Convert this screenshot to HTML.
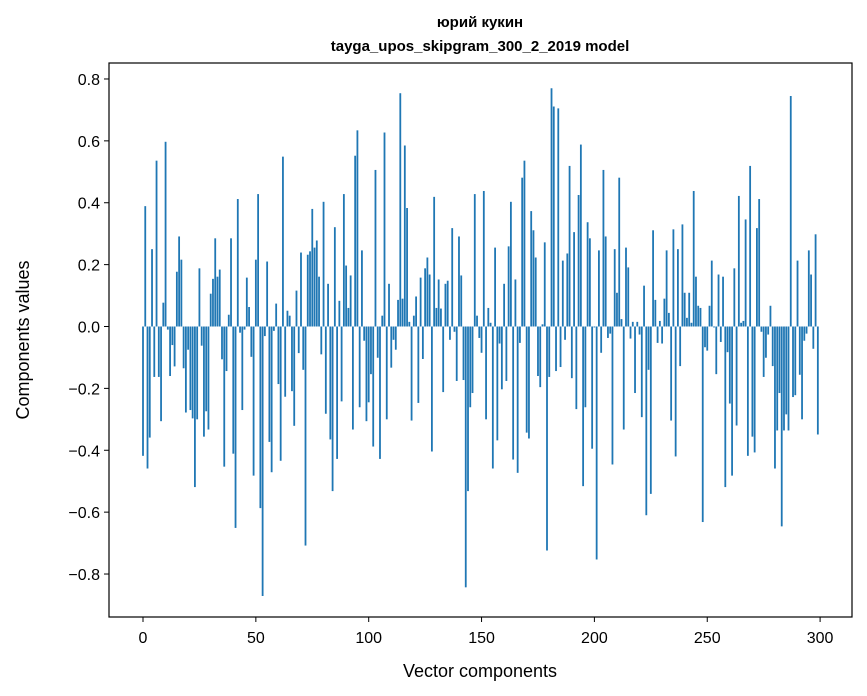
<!DOCTYPE html>
<html><head><meta charset="utf-8"><style>
body{margin:0;background:#fff;}
svg{display:block;font-family:"Liberation Sans","DejaVu Sans",sans-serif;}
</style></head><body>
<svg id="chart" width="867" height="696" viewBox="0 0 867 696" xmlns="http://www.w3.org/2000/svg">
<rect width="867" height="696" fill="#fff"/>
<text x="480" y="27" text-anchor="middle" font-size="15" font-weight="bold">юрий кукин</text>
<text x="480" y="51" text-anchor="middle" font-size="15" font-weight="bold">tayga_upos_skipgram_300_2_2019 model</text>
<g id="bars"></g>
<g id="yticks"></g>
<g id="xticks"></g>
<rect x="109" y="63" width="743" height="554" fill="none" stroke="#000" stroke-width="1.2"/>
<text x="480" y="677" text-anchor="middle" font-size="18">Vector components</text>
<text transform="translate(29,340) rotate(-90)" text-anchor="middle" font-size="18">Components values</text>
</svg>
<script>
const values = [-0.418,0.389,-0.459,-0.359,0.25,-0.163,0.536,-0.163,-0.306,0.077,
0.597,-0.01,-0.16,-0.06,-0.129,0.177,0.291,0.216,-0.135,-0.278,
-0.075,-0.27,-0.297,-0.519,-0.3,0.188,-0.062,-0.356,-0.274,-0.333,
0.106,0.154,0.285,0.161,0.184,-0.106,-0.453,-0.144,0.038,0.285,
-0.411,-0.651,0.412,-0.02,-0.27,-0.01,0.158,0.063,-0.098,-0.482,
0.216,0.428,-0.587,-0.871,-0.031,0.21,-0.373,-0.471,-0.014,0.074,
-0.186,-0.434,0.549,-0.227,0.051,0.035,-0.209,-0.321,0.116,-0.086,
0.239,-0.14,-0.708,0.232,0.243,0.38,0.255,0.278,0.161,-0.09,
0.403,-0.282,0.138,-0.365,-0.532,0.321,-0.428,0.083,-0.242,0.428,
0.197,0.06,0.165,-0.333,0.552,0.634,-0.261,0.246,-0.046,-0.306,
-0.245,-0.154,-0.388,0.506,-0.101,-0.428,0.035,0.627,-0.3,0.138,
-0.133,-0.043,-0.075,0.086,0.754,0.09,0.585,0.383,0.015,-0.304,
0.035,0.097,-0.247,0.158,-0.105,0.188,0.223,0.168,-0.404,0.419,
0.06,0.152,0.058,-0.212,0.138,0.148,-0.043,0.318,-0.017,-0.176,
0.291,0.165,-0.173,-0.843,-0.532,-0.261,-0.215,0.428,0.035,-0.037,
-0.085,0.438,-0.3,0.06,0.012,-0.459,0.255,-0.368,-0.055,-0.203,
0.138,-0.176,0.259,0.403,-0.43,0.152,-0.473,-0.053,0.481,0.536,
-0.343,-0.362,0.373,0.311,0.223,-0.16,-0.196,0.007,0.272,-0.724,
-0.163,0.77,0.711,-0.144,0.705,-0.131,0.213,-0.043,0.236,0.519,
-0.167,0.305,-0.267,0.425,0.588,-0.516,-0.261,0.337,0.285,-0.395,
-0.003,-0.753,0.246,-0.085,0.506,0.291,-0.037,-0.023,-0.446,0.25,
0.109,0.481,0.024,-0.333,0.255,0.191,-0.039,0.015,-0.215,0.015,
-0.026,-0.293,0.132,-0.61,-0.14,-0.541,0.311,0.086,-0.053,0.018,
-0.055,0.09,0.246,0.044,-0.304,0.314,-0.42,0.25,-0.128,0.33,
0.109,0.028,0.109,0.012,0.438,0.161,0.067,0.06,-0.632,-0.067,
-0.078,0.067,0.213,-0.003,-0.154,0.168,-0.05,0.161,-0.519,-0.083,
-0.249,-0.482,0.188,-0.32,0.422,0.012,0.018,0.346,-0.418,0.519,
-0.356,-0.407,0.318,0.412,-0.017,-0.163,-0.101,-0.026,0.067,-0.128,
-0.459,-0.336,-0.215,-0.646,-0.336,-0.284,-0.336,0.745,-0.228,-0.222,
0.213,-0.156,-0.3,-0.046,-0.023,0.246,0.168,-0.072,0.298,-0.349];
const yTickValues = [-0.8,-0.6,-0.4,-0.2,0.0,0.2,0.4,0.6,0.8];
const yTickLabels = ["−0.8","−0.6","−0.4","−0.2","0.0","0.2","0.4","0.6","0.8"];
const xTickValues = [0,50,100,150,200,250,300];
const xTickLabels = ["0","50","100","150","200","250","300"];

const NS = "http://www.w3.org/2000/svg";
function xScale(i){ return 143 + i * 2.257; }
function yScale(v){ return 326.5 - v * 309.4; }
const barsG = document.getElementById('bars');
values.forEach(function(v, i){
  const r = document.createElementNS(NS, 'rect');
  
  
  const y0 = yScale(0), y1 = yScale(v);
  r.setAttribute('x', xScale(i) - 0.9);
  r.setAttribute('width', 1.8);
  r.setAttribute('y', Math.min(y0, y1));
  r.setAttribute('height', Math.max(Math.abs(y1 - y0), 0.3));
  r.setAttribute('fill', '#1f77b4');
  barsG.appendChild(r);
});
const yG = document.getElementById('yticks');
yTickValues.forEach(function(v, k){
  const y = yScale(v);
  const l = document.createElementNS(NS, 'line');
  
  
  l.setAttribute('x1', 104); l.setAttribute('x2', 109);
  l.setAttribute('y1', y); l.setAttribute('y2', y);
  l.setAttribute('stroke', '#000');
  yG.appendChild(l);
  const t = document.createElementNS(NS, 'text');
  
  
  t.setAttribute('x', 100); t.setAttribute('y', y + 6);
  t.setAttribute('text-anchor', 'end');
  t.setAttribute('font-size', '16');
  t.textContent = yTickLabels[k];
  yG.appendChild(t);
});
const xG = document.getElementById('xticks');
xTickValues.forEach(function(v, k){
  const x = xScale(v);
  const l = document.createElementNS(NS, 'line');
  
  
  l.setAttribute('x1', x); l.setAttribute('x2', x);
  l.setAttribute('y1', 617); l.setAttribute('y2', 622);
  l.setAttribute('stroke', '#000');
  xG.appendChild(l);
  const t = document.createElementNS(NS, 'text');
  
  
  t.setAttribute('x', x); t.setAttribute('y', 643);
  t.setAttribute('text-anchor', 'middle');
  t.setAttribute('font-size', '16');
  t.textContent = xTickLabels[k];
  xG.appendChild(t);
});
</script>
</body></html>
